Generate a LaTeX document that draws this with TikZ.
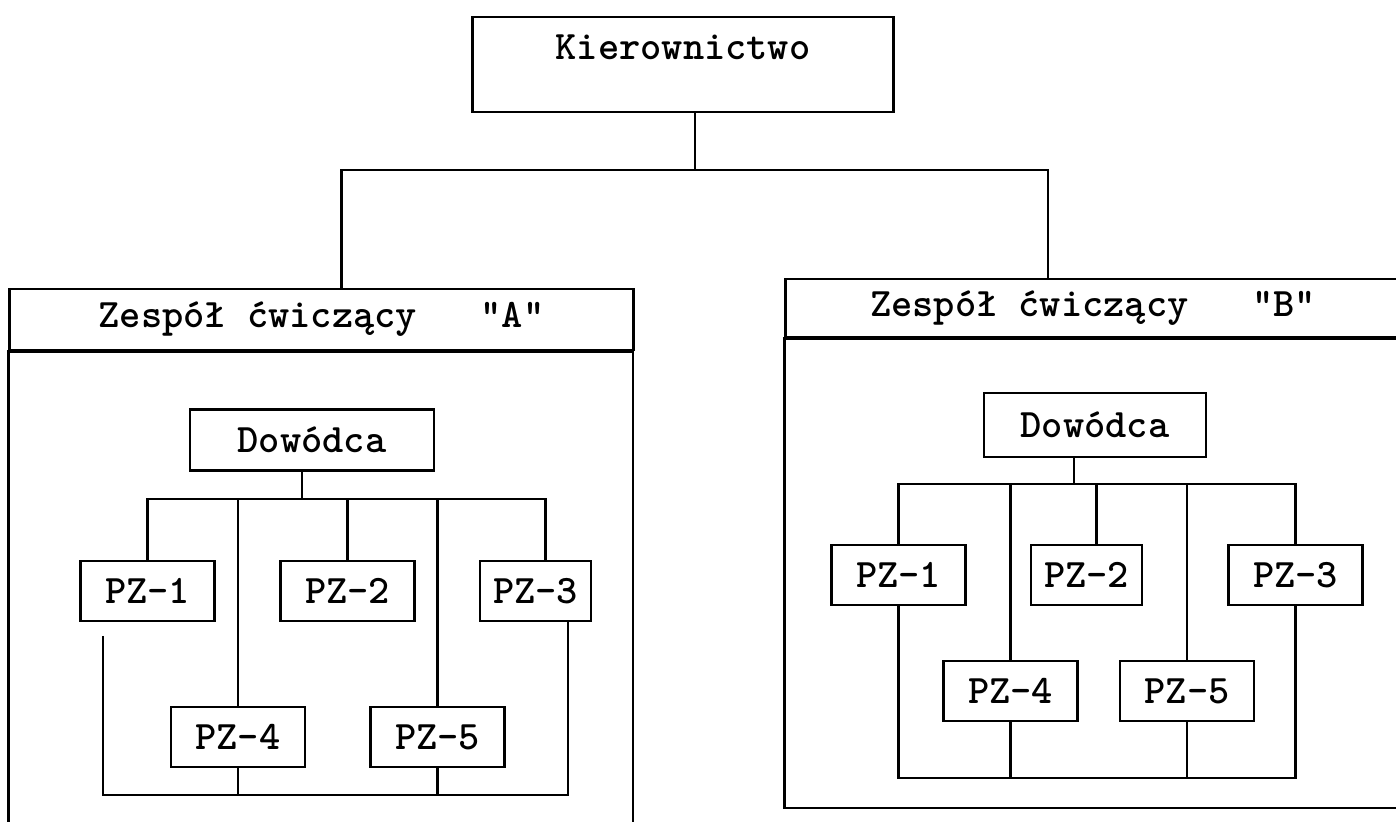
\documentclass[tikz,border=0pt]{standalone}
\usepackage{tikz}
\tikzset{
  box/.style={draw, line width=0.8pt, inner sep=0pt, font=\fontsize{11.5}{14}\selectfont\ttfamily\bfseries},
  pzbox/.style={box, minimum width=1.34cm, minimum height=0.6cm},
}

\begin{document}
\begin{tikzpicture}[x=0.01cm, y=-0.01cm, line width=0.8pt]
    \useasboundingbox (0,0) rectangle (1396,822);
    \clip (0,0) rectangle (1396,822);
    \node[box, minimum width=4.2cm, text height=0.43cm, text depth=0.52cm] (kier) at (683,64.5) {Kierownictwo};
    \node[box, minimum width=6.23cm, minimum height=0.61cm] (titA) at (321.5,319.5) {Zespół ćwiczący~~~"A"};
    \draw (titA.south west) rectangle (633,840);
    \node[box, minimum width=6.14cm, minimum height=0.58cm] (titB) at (1093,308) {Zespół ćwiczący~~~"B"};
    \draw (titB.south west) rectangle (1400,808);

    \node[box, minimum width=2.44cm, minimum height=0.61cm] (dA) at (312,440) {Dowódca};
    \node[pzbox] (pA1) at (147.5,591) {PZ-1};
    \node[pzbox] (pA2) at (347.5,591) {PZ-2};
    \node[pzbox, minimum width=1.11cm] (pA3) at (535.5,591) {PZ-3};
    \node[pzbox] (pA4) at (238,737) {PZ-4};
    \node[pzbox] (pA5) at (437.5,737) {PZ-5};

    \node[box, minimum width=2.22cm, minimum height=0.64cm] (dB) at (1095,425) {Dowódca};
    \node[pzbox] (pB1) at (898.5,575) {PZ-1};
    \node[pzbox, minimum width=1.11cm] (pB2) at (1086.5,575) {PZ-2};
    \node[pzbox] (pB3) at (1295.5,575) {PZ-3};
    \node[pzbox] (pB4) at (1010.5,691) {PZ-4};
    \node[pzbox] (pB5) at (1187,691) {PZ-5};

    \coordinate (top) at (0,170);
    \coordinate (busA) at (0,499);
    \coordinate (botA) at (0,795);
    \coordinate (gapA) at (103,636);
    \coordinate (busB) at (0,484);
    \coordinate (botB) at (0,778);

    \draw ([xshift=.12cm]kier.south) -- ([xshift=.12cm]kier.south |- top);
    \draw ([xshift=.2cm]titA.north) -- ([xshift=.2cm]titA.north |- top) -| ([xshift=-.45cm]titB.north);

    \draw ([xshift=-.1cm]dA.south) -- ([xshift=-.1cm]dA.south |- busA);
    \draw (pA1.north) -- (pA1.north |- busA) -| ([xshift=.1cm]pA3.north);
    \foreach \n in {pA2,pA4,pA5} \draw (\n.north) -- (\n.north |- busA);
    \draw (gapA) -- (gapA |- botA) -| ([xshift=.325cm]pA3.south);
    \foreach \n in {pA4,pA5} \draw (\n.south) -- (\n.south |- botA);

    \draw ([xshift=-.21cm]dB.south) -- ([xshift=-.21cm]dB.south |- busB);
    \draw (pB1.north) -- (pB1.north |- busB) -| (pB3.north);
    \draw ([xshift=.1cm]pB2.north) -- ([xshift=.1cm]pB2.north |- busB);
    \foreach \n in {pB4,pB5} \draw (\n.north) -- (\n.north |- busB);
    \draw (pB1.south) -- (pB1.south |- botB) -| (pB3.south);
    \foreach \n in {pB4,pB5} \draw (\n.south) -- (\n.south |- botB);
\end{tikzpicture}
\end{document}
